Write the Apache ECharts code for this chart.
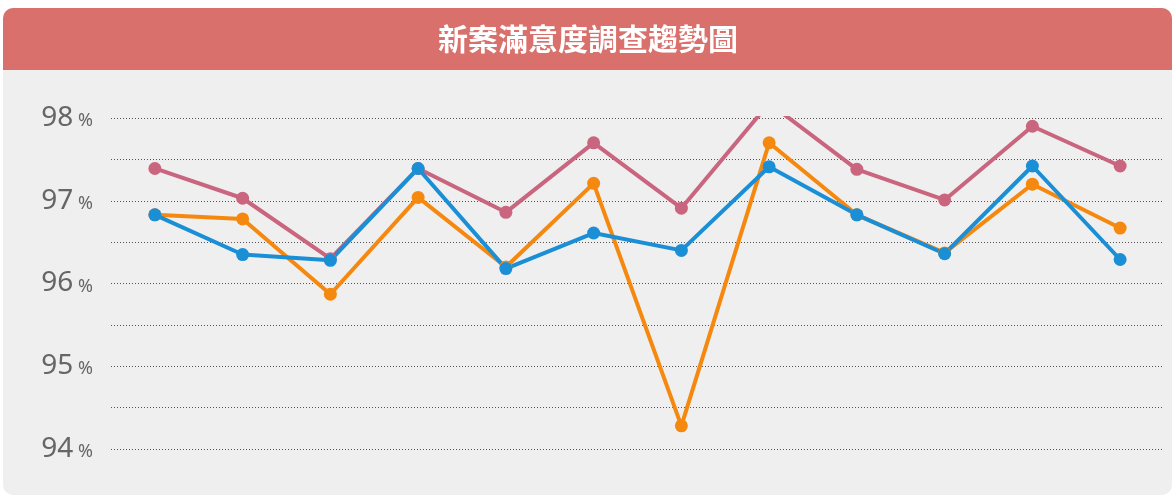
<!DOCTYPE html><html><head><meta charset="utf-8"><script src="https://cdn.jsdelivr.net/npm/echarts@6/dist/echarts.min.js"></script>
<style>html,body{margin:0;background:#fff}#c{width:1176px;height:503px}</style></head><body><div id="c"></div><script>
const categories=['1','2','3','4','5','6','7','8','9','10','11','12'];
const pink=[97.39,97.03,96.3,97.39,96.86,97.7,96.91,98.18,97.38,97.01,97.9,97.42];
const orange=[96.83,96.78,95.87,97.04,96.2,97.21,94.28,97.7,96.83,96.37,97.2,96.67];
const blue=[96.83,96.35,96.28,97.39,96.18,96.61,96.4,97.41,96.83,96.36,97.42,96.29];
const title='新案滿意度調查趨勢圖';
const ch=echarts.init(document.getElementById('c'));
function s(d,c){return{type:'line',data:d,symbol:'circle',symbolSize:13,lineStyle:{width:4,color:c},itemStyle:{color:c},animation:false};}
ch.setOption({
graphic:[{type:'rect',shape:{x:3,y:8,width:1169,height:487,r:10},style:{fill:'#efefef'},z:-10},
{type:'rect',shape:{x:3,y:8,width:1169,height:62,r:[10,10,0,0]},style:{fill:'#d9706c'},z:-9},
{type:'text',x:588,y:39,style:{text:title,fill:'#fff',font:'bold 30px "Noto Sans CJK TC"',align:'center',verticalAlign:'middle'}}],
grid:{left:111,right:12,top:118,bottom:54},
xAxis:{type:'category',data:categories,boundaryGap:true,axisLine:{show:false},axisTick:{show:false},axisLabel:{show:false}},
yAxis:{type:'value',min:94,max:98,interval:0.5,axisLine:{show:false},axisTick:{show:false},
splitLine:{lineStyle:{type:[1,2],color:'#555',width:1}},
axisLabel:{margin:18,formatter:v=>Number.isInteger(v)?'{a|'+v+'}{b| %}':'',rich:{a:{fontSize:28,color:'#666',fontFamily:'Noto Sans'},b:{fontSize:18,color:'#666',fontFamily:'Noto Sans',padding:[6,0,0,0]}}}},
series:[s(pink,'#c9657f'),s(orange,'#f5890f'),s(blue,'#1a8fd6')]
});
</script></body></html>
